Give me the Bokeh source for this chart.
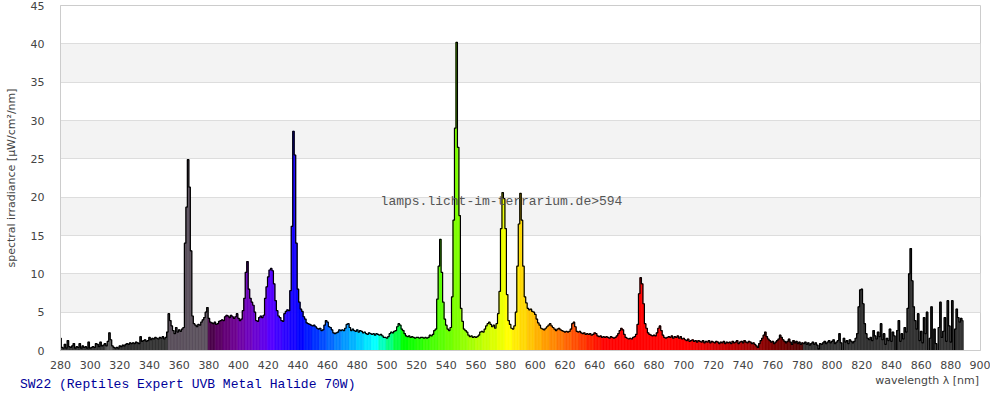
from bokeh.plotting import figure
from bokeh.models import FixedTicker, Label, ColumnDataSource, Div
from bokeh.layouts import column
from bokeh.embed import file_html
from bokeh.resources import INLINE

# ---------------- data ----------------
start_nm = 280
irradiance = [
    1.6, 0.4, 0.3, 0.8, 0.3, 1.3, 0.5, 0.4, 0.6, 0.9,   # 280
    0.3, 0.5, 0.4, 0.9, 0.3, 0.6, 0.4, 0.5, 0.3, 1.1,   # 290
    0.3, 0.4, 0.5, 0.4, 0.9, 0.8, 0.5, 1.1, 0.6, 0.7,   # 300
    0.9, 0.6, 1.2, 2.3, 1.4, 0.6, 0.4, 0.3, 0.4, 0.3,   # 310
    0.6, 0.5, 0.7, 0.6, 0.8, 0.9, 0.8, 1.0, 0.9, 1.0,   # 320
    0.9, 1.1, 1.0, 0.9, 1.8, 1.2, 1.3, 1.4, 1.2, 1.3,   # 330
    1.7, 1.4, 1.6, 1.5, 1.7, 1.6, 1.5, 1.7, 1.6, 1.8,   # 340
    1.5, 1.7, 2.4, 4.8, 3.9, 3.2, 2.6, 2.2, 3.0, 2.4,   # 350
    2.7, 2.5, 2.8, 3.0, 14.0, 18.7, 24.9, 21.3, 13.0, 4.5,  # 360
    3.5, 3.3, 3.1, 3.4, 3.3, 3.7, 4.0, 4.3, 5.0, 5.6,   # 370
    4.2, 3.7, 3.6, 3.5, 3.7, 3.4, 3.5, 3.8, 3.9, 4.0,   # 380
    3.9, 4.4, 4.6, 4.5, 4.3, 4.6, 4.4, 4.2, 4.4, 4.8,   # 390
    4.2, 3.9, 4.1, 5.2, 6.8, 10.2, 11.6, 8.0, 6.8, 6.3,  # 400
    5.9, 5.0, 3.9, 3.8, 4.3, 4.5, 4.3, 4.6, 6.8, 8.3,   # 410
    9.6, 10.5, 10.7, 10.4, 8.7, 6.5, 5.2, 4.5, 4.3, 3.9,  # 420
    3.8, 4.8, 5.1, 5.3, 5.2, 7.8, 16.2, 28.6, 25.5, 14.0,  # 430
    8.0, 6.3, 5.4, 5.1, 4.4, 4.1, 3.6, 3.5, 3.4, 3.3,   # 440
    3.2, 3.3, 3.1, 2.9, 2.8, 2.9, 2.6, 2.7, 3.3, 3.9,   # 450
    3.7, 3.1, 3.0, 2.7, 2.3, 2.2, 2.3, 2.4, 2.7, 2.6,   # 460
    2.7, 2.6, 2.9, 3.4, 3.5, 3.0, 2.6, 2.8, 2.6, 2.5,   # 470
    2.7, 2.4, 2.6, 2.5, 2.3, 2.4, 2.2, 2.1, 2.3, 2.2,   # 480
    2.1, 2.2, 2.0, 2.2, 2.1, 2.0, 2.1, 1.9, 1.7, 1.7,   # 490
    1.6, 1.8, 2.2, 2.4, 2.3, 2.5, 2.6, 3.1, 3.5, 3.3,   # 500
    2.8, 2.6, 2.2, 1.9, 1.8, 1.9, 1.7, 1.8, 1.7, 1.6,   # 510
    1.7, 1.7, 1.6, 1.7, 1.7, 1.6, 1.7, 1.6, 1.7, 2.0,   # 520
    1.9, 2.1, 2.6, 2.8, 6.7, 11.0, 14.5, 10.2, 6.3, 4.1,  # 530
    3.3, 2.8, 2.6, 3.0, 7.0, 17.0, 29.0, 40.2, 26.5, 17.6,  # 540
    5.5, 3.8, 2.8, 2.6, 2.4, 2.0, 1.8, 1.9, 1.7, 1.8,   # 550
    1.7, 1.8, 2.0, 2.4, 2.5, 2.4, 2.8, 3.2, 3.5, 3.7,   # 560
    3.4, 3.1, 3.3, 2.9, 3.5, 4.8, 7.7, 15.9, 20.6, 19.8,  # 570
    15.9, 7.3, 3.9, 3.4, 2.9, 2.8, 3.2, 5.0, 11.0, 16.5,  # 580
    20.5, 17.0, 11.0, 7.0, 6.2, 5.5, 5.3, 5.4, 5.1, 5.0,  # 590
    4.7, 4.1, 3.6, 3.3, 2.9, 2.8, 2.7, 2.9, 3.1, 3.3,   # 600
    3.5, 3.2, 3.0, 2.8, 2.6, 2.8, 2.9, 2.7, 2.6, 2.5,   # 610
    2.4, 2.5, 2.4, 2.5, 2.8, 3.5, 3.7, 3.1, 2.5, 2.4,   # 620
    2.5, 2.3, 2.2, 2.3, 2.1, 2.2, 2.1, 2.2, 2.0, 2.1,   # 630
    2.3, 2.2, 1.9, 1.8, 1.9, 1.7, 1.8, 1.7, 1.8, 1.7,   # 640
    1.6, 1.8, 1.7, 1.6, 1.7, 1.9, 2.2, 2.6, 2.9, 2.7,   # 650
    2.1, 1.7, 1.6, 1.5, 1.6, 1.5, 1.7, 1.8, 2.1, 3.4,   # 660
    7.4, 9.5, 8.7, 6.1, 3.5, 2.9, 2.3, 2.1, 2.0, 1.9,   # 670
    2.0, 1.9, 2.3, 2.9, 3.2, 2.6, 2.0, 1.7, 1.6, 1.7,   # 680
    1.8, 1.7, 1.9, 1.6, 1.8, 1.7, 1.9, 1.6, 1.8, 1.5,   # 690
    1.6, 1.4, 1.3, 1.5, 1.2, 1.3, 1.4, 1.2, 1.3, 1.1,   # 700
    1.3, 1.2, 1.1, 1.3, 1.0, 1.2, 1.1, 1.3, 1.0, 1.2,   # 710
    1.1, 1.0, 1.2, 1.1, 0.9, 1.1, 1.0, 1.2, 0.9, 1.1,   # 720
    1.0, 1.1, 0.9, 1.2, 1.0, 1.1, 1.3, 0.9, 1.1, 1.2,   # 730
    1.0, 1.3, 1.1, 1.0, 1.2, 1.1, 0.9, 1.0, 0.8, 0.6,   # 740
    0.4, 0.9, 1.3, 1.6, 2.0, 2.4, 1.8, 1.5, 1.3, 1.1,   # 750
    1.2, 0.9, 1.1, 1.3, 1.5, 2.0, 1.7, 1.4, 1.2, 1.0,   # 760
    1.2, 1.5, 1.1, 0.8, 1.3, 1.0, 1.2, 0.9, 1.1, 0.8,   # 770
    1.0, 0.9, 1.1, 0.8, 1.0, 0.7, 0.9, 1.1, 0.8, 1.0,   # 780
    0.7, 0.2, 0.9, 0.8, 1.0, 1.2, 0.9, 1.1, 1.3, 1.0,   # 790
    1.2, 1.4, 0.9, 1.1, 1.3, 2.2, 1.0, 0.0, 1.6, 1.1,   # 800
    1.3, 0.9, 1.4, 1.2, 1.0, 1.2, 1.6, 2.2, 5.7, 7.9,   # 810
    8.0, 6.1, 3.5, 2.2, 1.6, 1.4, 1.7, 1.3, 2.6, 1.9,   # 820
    1.5, 2.4, 1.8, 3.5, 1.4, 2.2, 0.8, 1.6, 1.3, 2.8,   # 830
    1.2, 2.4, 1.9, -0.5, 2.6, 3.9, 1.2, 2.2, 1.5, 3.0,  # 840
    2.4, 5.5, 10.0, 13.3, 9.1, 5.7, 3.9, 2.8, 4.8, 1.3,  # 850
    2.5, 1.0, 4.3, 2.2, 5.0, -1.5, 1.6, 5.7, -3.0, 2.8,  # 860
    0.9, -1.2, 3.0, 6.3, 1.7, 2.5, 4.3, 1.2, 6.5, 3.2,  # 870
    1.1, 6.5, -1.5, 2.8, 5.4, 4.3, 3.7, 4.2, 3.9,       # 880
]
wavelengths = list(range(start_nm, start_nm + len(irradiance)))

x_ticks = list(range(280, 901, 20))
y_ticks = list(range(0, 46, 5))

title_text = "SW22 (Reptiles Expert UVB Metal Halide 70W)"
watermark_text = "lamps.licht-im-terrarium.de>594"
x_label = "wavelength \u03bb [nm]"
y_label = "spectral irradiance [\u00b5W/cm\u00b2/nm]"


def spectrum_color(w):
    if w < 353:
        return "#5a5a5a" if 311 <= w <= 315 else "#333333"
    if w < 380:
        return "#5b505d"
    if w > 780:
        return "#333333"
    b = (w // 5) * 5
    if b < 440:
        r, g, bl = (440 - b) / 60, 0.0, 1.0
    elif b < 490:
        r, g, bl = 0.0, (b - 440) / 50, 1.0
    elif b < 510:
        r, g, bl = 0.0, 1.0, (510 - b) / 20
    elif b < 580:
        r, g, bl = (b - 510) / 70, 1.0, 0.0
    elif b < 645:
        r, g, bl = 1.0, (645 - b) / 65, 0.0
    else:
        r, g, bl = 1.0, 0.0, 0.0
    if b < 420:
        f = 0.3 + 0.7 * (b - 380) / 40
    elif b <= 700:
        f = 1.0
    else:
        f = 0.3 + 0.7 * (780 - b) / 80
    return "#%02x%02x%02x" % tuple(int(round(255 * c * f)) for c in (r, g, bl))


colors = [spectrum_color(w) for w in wavelengths]
src = ColumnDataSource(dict(x=wavelengths, y=irradiance, c=colors))

p = figure(width=990, height=372, x_range=(280, 900), y_range=(0, 45),
           output_backend="svg", toolbar_location=None,
           min_border_left=60, min_border_right=10,
           min_border_top=5, min_border_bottom=22, margin=0)
p.background_fill_color = "white"
p.border_fill_color = "white"
p.outline_line_color = "#cccccc"

p.vbar(x="x", top="y", width=1.0, fill_color="c", line_color="c",
       line_width=0.6, source=src)
p.step(x="x", y="y", mode="center", line_color="black", line_width=1.2,
       source=src)

p.xgrid.visible = False
p.ygrid.grid_line_color = "#dddddd"
p.ygrid.band_fill_color = "#f3f3f3"
p.ygrid.band_fill_alpha = 1.0

p.xaxis.ticker = FixedTicker(ticks=x_ticks)
p.yaxis.ticker = FixedTicker(ticks=y_ticks)
for ax in (p.xaxis[0], p.yaxis[0]):
    ax.major_tick_line_color = None
    ax.minor_tick_line_color = None
    ax.axis_line_color = "#cccccc"
    ax.major_label_text_font = "DejaVu Sans"
    ax.major_label_text_font_size = "11px"
    ax.major_label_text_color = "#444444"
p.xaxis.major_label_standoff = 4
p.yaxis.major_label_standoff = 10

p.yaxis.axis_label = y_label
p.yaxis.axis_label_text_font = "DejaVu Sans"
p.yaxis.axis_label_text_font_size = "11px"
p.yaxis.axis_label_text_font_style = "normal"
p.yaxis.axis_label_text_color = "#444444"
p.yaxis.axis_label_standoff = 10

p.add_layout(Label(x=577.2, y=19.4, text=watermark_text,
                   text_align="center", text_baseline="middle",
                   text_font="Liberation Mono", text_font_size="13px",
                   text_color="#555555"))

# texts under the chart: x-axis label (right) and lamp name (left)
footer_html = (
    '<div style="position:relative;width:990px;height:24px;margin:0;padding:0;">'
    '<span style="position:absolute;right:11px;top:2px;line-height:14px;'
    'font-family:\'DejaVu Sans\';font-size:11px;color:#444444;white-space:nowrap;">'
    + x_label +
    '</span>'
    '<span style="position:absolute;left:20px;top:5px;line-height:16px;'
    'font-family:\'Liberation Mono\';font-size:13px;color:#000099;white-space:nowrap;">'
    + title_text +
    '</span></div>'
)
footer = Div(text=footer_html, width=990, height=24, margin=0)

layout = column(p, footer, spacing=0, margin=0)

open("out.html", "w").write(file_html(layout, INLINE))
